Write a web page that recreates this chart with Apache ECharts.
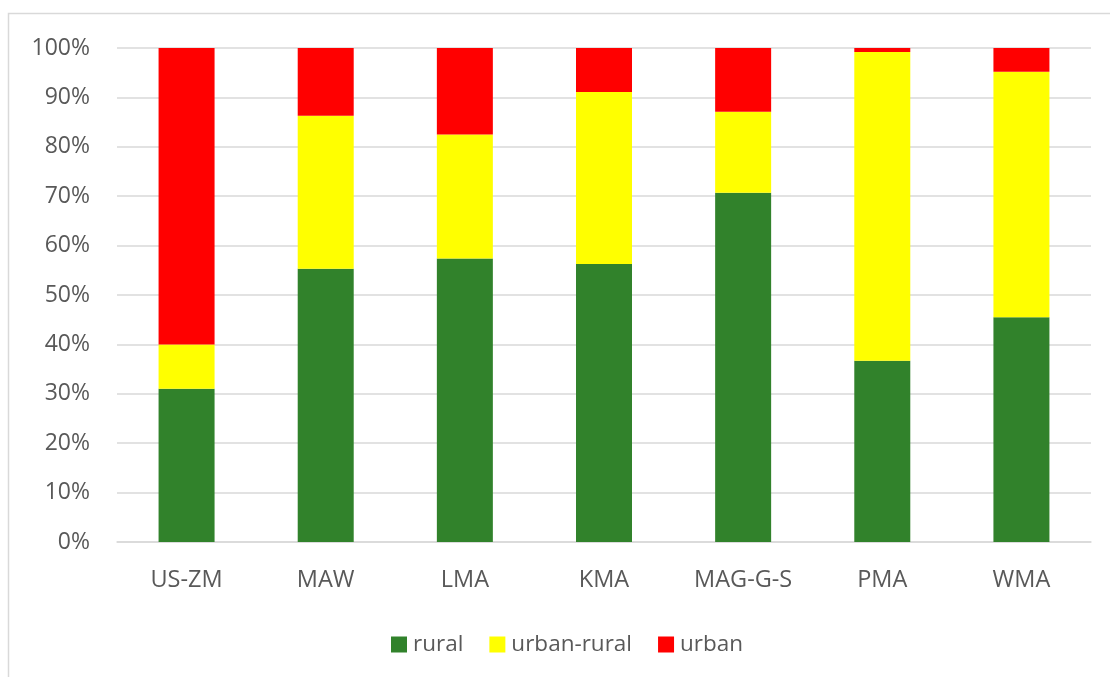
<!DOCTYPE html>
<html>
<head>
<meta charset="utf-8">
<style>
  html, body { margin: 0; padding: 0; background: #ffffff; }
  #chart { width: 1110px; height: 677px; }
</style>
<script src="https://cdn.jsdelivr.net/npm/echarts@6/dist/echarts.min.js"></script>
</head>
<body>
<div id="chart"></div>
<script>
// Share of each settlement type per metropolitan area (percent)
const categories = ['US-ZM', 'MAW', 'LMA', 'KMA', 'MAG-G-S', 'PMA', 'WMA'];
const rural      = [31.0, 55.3, 57.4, 56.3, 70.7, 36.7, 45.5];
const urbanRural = [9.0, 31.0, 25.1, 34.8, 16.4, 62.5, 49.7];
const urban      = [60.0, 13.7, 17.5, 8.9, 12.9, 0.8, 4.8];
const yTicks     = [0, 10, 20, 30, 40, 50, 60, 70, 80, 90, 100];

const FONT = '"Open Sans", "Noto Sans", sans-serif';
const TEXT = '#595959';

const chart = echarts.init(document.getElementById('chart'), null, { renderer: 'canvas' });

function barSeries(name, data, color) {
  return {
    name: name,
    type: 'bar',
    stack: 'share',
    barWidth: 56,
    data: data,
    itemStyle: { color: color },
    emphasis: { disabled: true }
  };
}

chart.setOption({
  animation: false,
  backgroundColor: '#ffffff',
  graphic: [{
    type: 'rect',
    shape: { x: 8.5, y: 13.5, width: 1200, height: 800 },
    style: { fill: 'none', stroke: '#d9d9d9', lineWidth: 1.5 },
    silent: true
  }],
  grid: { left: 117, right: 19, top: 48, bottom: 135, containLabel: false },
  legend: {
    data: ['rural', 'urban-rural', 'urban'],
    top: 628,
    left: 386,
    itemWidth: 16,
    itemHeight: 16,
    itemGap: 26,
    icon: 'rect',
    textStyle: { color: TEXT, fontSize: 22.5, fontFamily: FONT, padding: [0, 0, 0, 1] }
  },
  xAxis: {
    type: 'category',
    data: categories,
    axisLine: { show: true, lineStyle: { color: '#d9d9d9', width: 1.5 } },
    axisTick: { show: false },
    axisLabel: { color: TEXT, fontSize: 23.5, fontFamily: FONT, margin: 26 }
  },
  yAxis: {
    type: 'value',
    min: yTicks[0],
    max: yTicks[yTicks.length - 1],
    interval: 10,
    axisLine: { show: false },
    axisTick: { show: false },
    splitLine: { lineStyle: { color: '#d9d9d9', width: 1.5 } },
    axisLabel: { color: TEXT, fontSize: 23, fontFamily: FONT, margin: 27, formatter: '{value}%' }
  },
  series: [
    barSeries('rural', rural, '#31822b'),
    barSeries('urban-rural', urbanRural, '#ffff00'),
    barSeries('urban', urban, '#ff0000')
  ]
});
</script>
</body>
</html>
